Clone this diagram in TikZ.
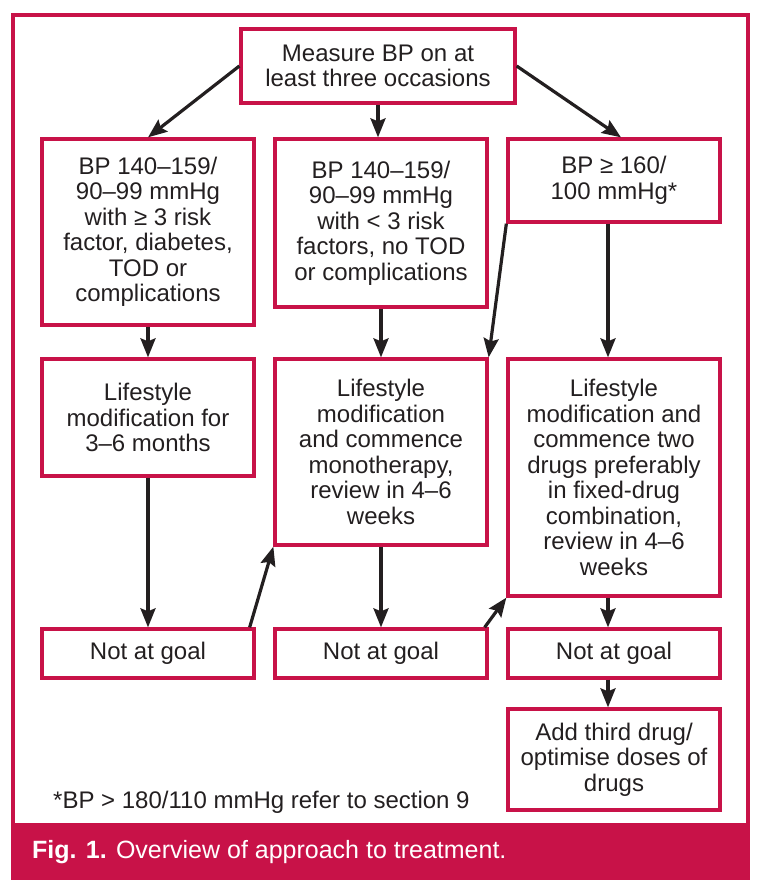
\documentclass[tikz,border=0pt]{standalone}
\usepackage{fontspec}
\setmainfont{Liberation Sans}
\usetikzlibrary{arrows.meta}
\definecolor{bpred}{RGB}{200,18,72}
\definecolor{bpink}{RGB}{35,31,32}

\begin{document}
\begin{tikzpicture}[x=1pt, y=-1pt,
     box/.style={draw=bpred, line width=3.3pt, minimum width=212pt,
                 inner sep=0pt, align=center, text=bpink,
                 font=\fontsize{24}{25.5}\selectfont},
     arr/.style={draw=bpink, line width=3.2pt,
                 -{Stealth[length=19pt,width=15pt,inset=3pt]}},
     note/.style={inner sep=0pt, font=\fontsize{24}{26}\selectfont}]
    \useasboundingbox (0,0) rectangle (760,891);
    % frame and caption band
    \fill[bpred] (13,823) rectangle (748,878);
    \draw[bpred, line width=3.3pt] (13,15) rectangle (748,878);
    %top
    \node[box, minimum width=274pt, minimum height=74pt] (measure) at (378,66)
        {Measure BP on at\\least three occasions};
    %row 1
    \node[box, minimum height=186pt] (bpa) at (148,232)
        {BP 140–159/\\90–99 mmHg\\with ≥ 3 risk\\factor, diabetes,\\TOD or\\complications};
    \node[box, minimum height=168pt] (bpb) at (381,223)
        {BP 140–159/\\90–99 mmHg\\with < 3 risk\\factors, no TOD\\or complications};
    \node[box, minimum height=83pt] (bpc) at (614,180.5)
        {BP ≥ 160/\\100 mmHg*};
    %row 2
    \node[box, minimum height=117pt] (lsa) at (148,417.5)
        {Lifestyle\\modification for\\3–6 months};
    \node[box, minimum height=186pt] (lsb) at (381,452)
        {Lifestyle\\modification\\and commence\\monotherapy,\\review in 4–6\\weeks};
    \node[box, minimum height=237pt] (lsc) at (614,477.5)
        {Lifestyle\\modification and\\commence two\\drugs preferably\\in fixed-drug\\combination,\\review in 4–6\\weeks};
    %row 3
    \node[box, minimum height=49pt] (goala) at (148,653.5) {Not at goal};
    \node[box, minimum height=49pt] (goalb) at (381,653.5) {Not at goal};
    \node[box, minimum height=49pt] (goalc) at (614,653.5) {Not at goal};
    \node[box, minimum height=101pt] (drugs) at (614,759.5)
        {Add third drug/\\optimise doses of\\drugs};
    %notes
    \node[note, anchor=base west, text=bpink] (foot) at (53,808)
        {*BP > 180/110 mmHg refer to section 9};
    \node[note, anchor=base west, text=white, font=\fontsize{25}{27}\selectfont] (caption) at (32,858)
        {\bfseries Fig. 1.\mdseries{} Overview of approach to treatment.};
    %arrows
    \draw[arr] (measure.west) -- (bpa.north);
    \draw[arr] (measure.south) -- (measure.south |- bpb.north);
    \draw[arr] (measure.east) -- ([xshift=7pt]bpc.north);
    \draw[arr] (bpa) -- (lsa);
    \draw[arr] (bpb) -- (lsb);
    \draw[arr] ([xshift=-6pt]bpc.south) -- ([xshift=-6pt]bpc.south |- lsc.north);
    \draw[arr] (bpc.south west) -- (lsb.north east);
    \draw[arr] (lsa) -- (goala);
    \draw[arr] (lsb) -- (goalb);
    \draw[arr] ([xshift=-6pt]lsc.south) -- ([xshift=-6pt]lsc.south |- goalc.north);
    \draw[arr] ([xshift=-6pt]goalc.south) -- ([xshift=-6pt]goalc.south |- drugs.north);
    \draw[arr] ([xshift=-6pt]goala.north east) -- (lsb.south west);
    \draw[arr] ([xshift=-4pt]goalb.north east) -- (lsc.south west);
\end{tikzpicture}
\end{document}
